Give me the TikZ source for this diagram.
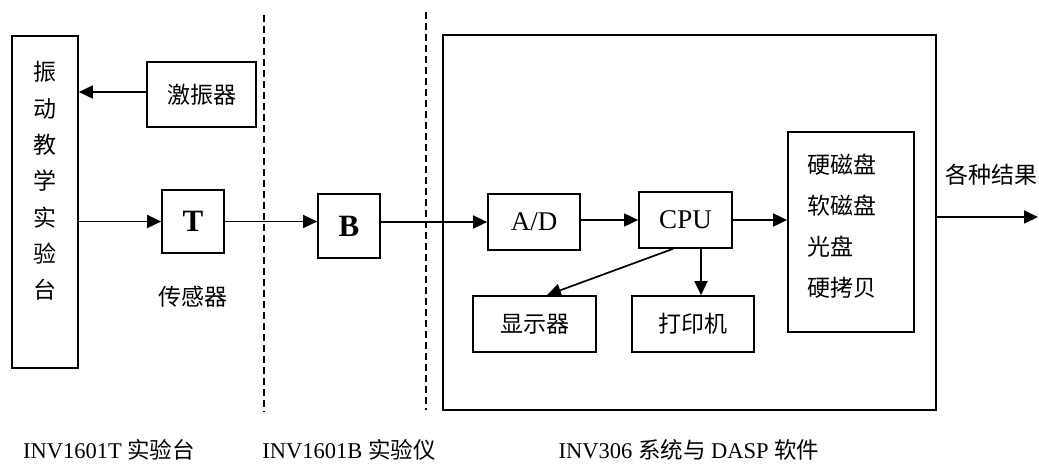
\documentclass[tikz,border=0pt]{standalone}
\usepackage{fontspec}
\setmainfont{Liberation Serif}
\newfontfamily\cjk{Noto Sans CJK SC}
\usetikzlibrary{arrows.meta}
\begin{document}
\begin{tikzpicture}[x=1pt,y=-1pt,
 box/.style={draw, line width=1.7pt, inner sep=0pt, anchor=center},
 cjkf/.style={font=\cjk\fontsize{23}{27}\selectfont},
 latf/.style={font=\fontsize{27}{30}\selectfont},
 boldf/.style={font=\bfseries\fontsize{31}{34}\selectfont},
 botf/.style={font=\fontsize{22.5}{26}\selectfont},
 arr/.style={line width=1.7pt, -{Triangle[length=14pt,width=13pt]}},
 dline/.style={line width=1.4pt, dash pattern=on 7pt off 4pt}]
\useasboundingbox (0,0) rectangle (1039,466);
% left part
\node[box, minimum width=66pt, minimum height=332pt] (table) at (45,202) {};
\node[align=center, font=\cjk\fontsize{23}{36.3}\selectfont] (tabletext) at (45,181) {振\\动\\教\\学\\实\\验\\台};
\node[box, cjkf, minimum width=109pt, minimum height=65pt] (exc) at (201.5,94.5) {激振器};
\node[box, boldf, minimum width=62pt, minimum height=63pt] (T) at (193,221.5) {T};
\node[cjkf] (sens) at (193,297) {传感器};
\node[box, boldf, minimum width=62pt, minimum height=64pt] (B) at (349,226) {B};
% system box
\node[box, line width=2.2pt, minimum width=493pt, minimum height=375pt] (sys) at (689.5,222.5) {};
\node[box, latf, minimum width=92pt, minimum height=56pt] (AD) at (534,222) {A/D};
\node[box, latf, minimum width=93pt, minimum height=56pt] (CPU) at (685.5,220) {CPU};
\node[box, cjkf, minimum width=123pt, minimum height=56pt] (disp) at (534.5,324) {显示器};
\node[box, cjkf, minimum width=122pt, minimum height=56pt] (prn) at (693,324) {打印机};
\node[box, minimum width=126pt, minimum height=200pt] (stor) at (851,232) {};
\node[anchor=west, align=left, inner sep=0pt, font=\cjk\fontsize{23}{41}\selectfont] (stortext) at (807,226.5) {硬磁盘\\软磁盘\\光盘\\硬拷贝};
\node[cjkf] (res) at (991,175) {各种结果};
\coordinate (out) at (1038,217);
% dashed separators
\coordinate (d1t) at (264,15);
\coordinate (d1b) at (264,412);
\coordinate (d2t) at (426,12);
\coordinate (d2b) at (426,410);
\draw[dline] (d1t) -- (d1b);
\draw[dline] (d2t) -- (d2b);
% arrows
\draw[arr] (exc.west |- 0,92) -- (table.east |- 0,92);
\draw[arr] (table.east |- T.west) -- (T.west);
\draw[arr] (T.east) -- (B.west |- T.east);
\draw[arr] (B.east |- AD.west) -- (AD.west);
\draw[arr] (AD.east |- CPU.west) -- (CPU.west);
\draw[arr] (CPU.east) -- (stor.west |- CPU.east);
\draw[arr] ([xshift=15.5pt]CPU.south) -- ([xshift=15.5pt]CPU.south |- prn.north);
\draw[arr] ([xshift=-12.5pt]CPU.south) -- ([xshift=12.5pt]disp.north);
\draw[arr] (sys.east |- out) -- (out);
% bottom labels
\node[botf] (lab1) at (109,450) {INV1601T {\cjk 实验台}};
\node[botf] (lab2) at (349,450) {INV1601B {\cjk 实验仪}};
\node[botf] (lab3) at (689,450) {INV306 {\cjk 系统与} DASP {\cjk 软件}};
\end{tikzpicture}
\end{document}
